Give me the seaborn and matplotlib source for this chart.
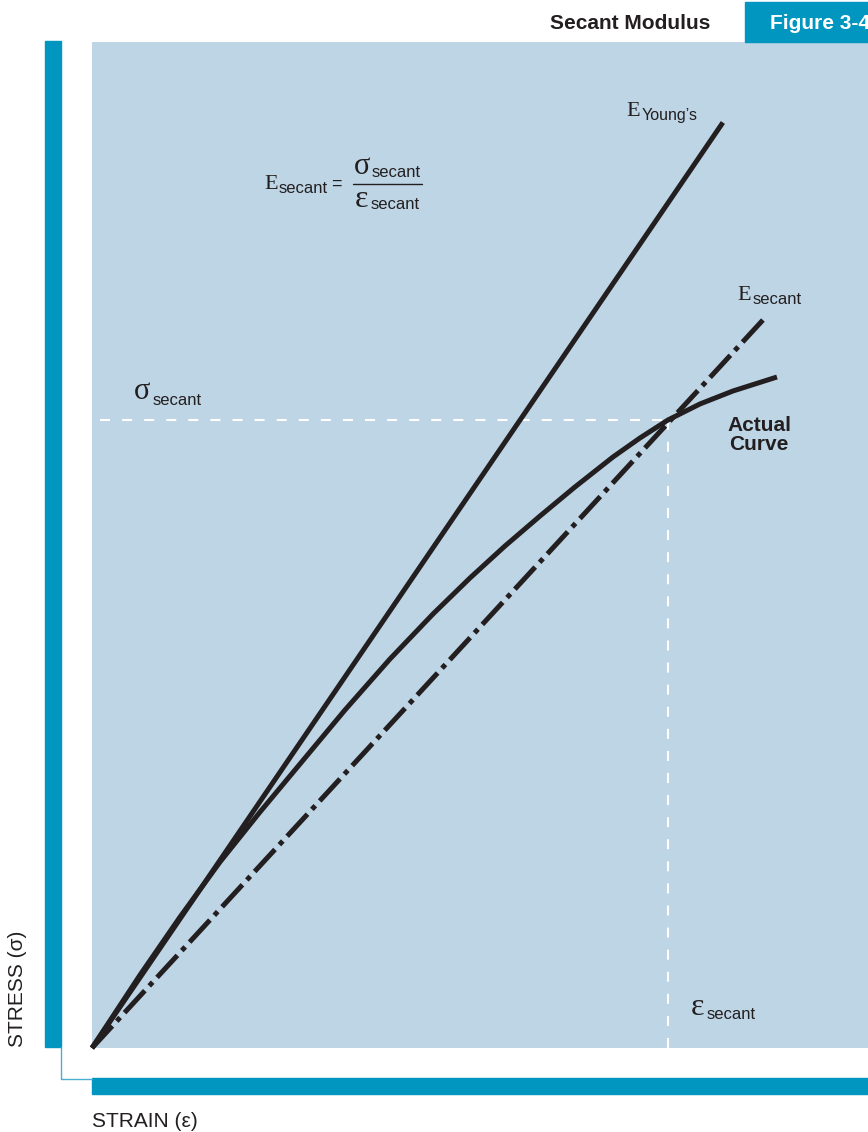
import matplotlib
matplotlib.use("Agg")
import matplotlib.pyplot as plt
from matplotlib.patches import Rectangle
from matplotlib.lines import Line2D
import seaborn as sns
import pandas as pd

sns.set_theme(style="white")
plt.rcParams['font.family'] = ['Liberation Sans', 'DejaVu Sans']

# values (arbitrary strain / stress units, 0..100)
curve_strain = [0, 6.19, 11.34, 16.49, 21.65, 26.80, 32.60, 38.40, 43.94, 48.71,
                53.22, 57.73, 62.24, 67.14, 70.62, 74.23, 78.35, 82.60, 88.27]
curve_stress = [0, 7.26, 13.02, 18.49, 23.46, 28.23, 33.60, 38.67, 43.14, 46.72,
                49.90, 52.88, 55.77, 58.75, 60.64, 62.43, 64.02, 65.31, 66.70]
youngs_strain = [0, 81.3]
youngs_stress = [0, 92.0]
secant_strain = [0, 86.5]
secant_stress = [0, 72.4]
secant_pt_strain = 74.2
secant_pt_stress = 62.4

W, H = 868, 1132
DARK = "#231F20"
TEAL = "#0096C0"
PANEL = "#BED5E5"


def fx(x):
    return x / W


def fy(y):
    return 1 - y / H


fig = plt.figure(figsize=(W / 100, H / 100), dpi=100)

# plot panel
ax = fig.add_axes([fx(92), fy(1048), (W - 92) / W, (1048 - 42) / H])
ax.set_facecolor(PANEL)
ax.set_xlim(0, 100)
ax.set_ylim(0, 100)
ax.set_xticks([])
ax.set_yticks([])
sns.despine(ax=ax, left=True, bottom=True)

df_curve = pd.DataFrame({"strain": curve_strain, "stress": curve_stress})
df_young = pd.DataFrame({"strain": youngs_strain, "stress": youngs_stress})
df_sec = pd.DataFrame({"strain": secant_strain, "stress": secant_stress})

# white dashed guide lines
sns.lineplot(x=[1.0, secant_pt_strain], y=[secant_pt_stress, secant_pt_stress], ax=ax,
             color="white", lw=1.5, linestyle=(0, (4.8, 5.8)), estimator=None, sort=False)
sns.lineplot(x=[secant_pt_strain, secant_pt_strain], y=[0, secant_pt_stress], ax=ax,
             color="white", lw=1.5, linestyle=(0, (4.8, 5.8)), estimator=None, sort=False)

sns.lineplot(data=df_young, x="strain", y="stress", ax=ax, color=DARK, lw=3.6,
             estimator=None, sort=False, clip_on=False, solid_capstyle="butt")
sns.lineplot(data=df_curve, x="strain", y="stress", ax=ax, color=DARK, lw=3.6,
             estimator=None, sort=False, clip_on=False, solid_capstyle="butt",
             solid_joinstyle="round")
sns.lineplot(data=df_sec, x="strain", y="stress", ax=ax, color=DARK, lw=3.6,
             linestyle=(0, (6, 1.3, 1.0, 1.3)), estimator=None, sort=False, clip_on=False)
ax.set_xlabel("")
ax.set_ylabel("")

# frame decorations
fig.patches.append(Rectangle((fx(45), fy(1047)), 16 / W, (1047 - 41) / H,
                             transform=fig.transFigure, color=TEAL, zorder=0))
fig.patches.append(Rectangle((fx(92), fy(1094)), (W - 92) / W, 16 / H,
                             transform=fig.transFigure, color=TEAL, zorder=0))
fig.patches.append(Rectangle((fx(745), fy(42)), (W - 745) / W, 40 / H,
                             transform=fig.transFigure, color=TEAL, zorder=0))
fig.lines.append(Line2D([fx(60.5), fx(60.5), fx(92)], [fy(1047), fy(1079), fy(1079)],
                        transform=fig.transFigure, color="#4AAED0", lw=1.0))

# header
fig.text(fx(630), fy(29), "Secant Modulus", ha="center", va="baseline",
         fontsize=15, fontweight="bold", color=DARK)
fig.text(fx(770), fy(29), "Figure 3-4", ha="left", va="baseline",
         fontsize=15, fontweight="bold", color="white")

serif = ['Liberation Serif', 'DejaVu Serif']

# E Young's
fig.text(fx(626), fy(116), "E", family=serif, fontsize=16, color=DARK, va="baseline")
fig.text(fx(642), fy(120), "Young\u2019s", fontsize=11.5, color=DARK, va="baseline")

# formula
fig.text(fx(264), fy(189), "E", family=serif, fontsize=16, color=DARK, va="baseline")
fig.text(fx(279), fy(193), "secant", fontsize=12, color=DARK, va="baseline")
fig.text(fx(331), fy(189), "=", fontsize=13, color=DARK, va="baseline")
fig.text(fx(354), fy(174), "\u03c3", family=serif, fontsize=22, color=DARK, va="baseline")
fig.text(fx(372), fy(177), "secant", fontsize=12, color=DARK, va="baseline")
fig.lines.append(Line2D([fx(353), fx(422)], [fy(184), fy(184)],
                        transform=fig.transFigure, color=DARK, lw=1.0))
fig.text(fx(355), fy(207), "\u03b5", family=serif, fontsize=23, color=DARK, va="baseline")
fig.text(fx(371), fy(209), "secant", fontsize=12, color=DARK, va="baseline")

# sigma secant
fig.text(fx(134), fy(399), "\u03c3", family=serif, fontsize=22, color=DARK, va="baseline")
fig.text(fx(153), fy(405), "secant", fontsize=12, color=DARK, va="baseline")

# E secant
fig.text(fx(737), fy(300), "E", family=serif, fontsize=16, color=DARK, va="baseline")
fig.text(fx(753), fy(304), "secant", fontsize=12, color=DARK, va="baseline")

# Actual curve
fig.text(fx(759), fy(450), "Actual\nCurve", ha="center", va="baseline",
         fontsize=15, fontweight="bold", color=DARK, linespacing=1.0)

# epsilon secant
fig.text(fx(691), fy(1015), "\u03b5", family=serif, fontsize=23, color=DARK, va="baseline")
fig.text(fx(707), fy(1019), "secant", fontsize=12, color=DARK, va="baseline")

# axis titles
fig.text(fx(18), fy(1047), "STRESS (\u03c3)", rotation=90, ha="center", va="bottom",
         fontsize=15, color=DARK)
fig.text(fx(92), fy(1127), "STRAIN (\u03b5)", ha="left", va="baseline",
         fontsize=15, color=DARK)

fig.savefig("out.png", dpi=100)
